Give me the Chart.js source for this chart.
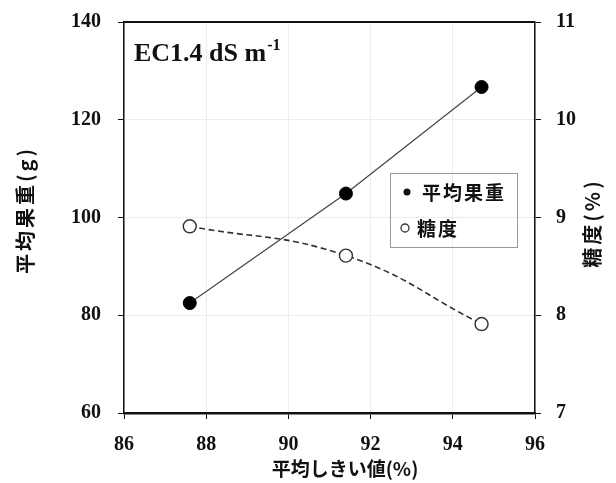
<!DOCTYPE html>
<html lang="ja">
<head>
<meta charset="UTF-8">
<title>平均しきい値と平均果重・糖度</title>
<script src="https://cdn.jsdelivr.net/npm/chart.js"></script>
<style>
    body { margin: 0; background: #fff; }
    #wrap { width: 616px; height: 483px; }
</style>
</head>
<body>
<div id="wrap"><canvas id="chart" width="616" height="483"></canvas></div>
<script>
    // データ
    const thresholds = [87.6, 91.4, 94.7];      // 平均しきい値(%)
    const fruitWeight = [82.5, 104.9, 126.7];   // 平均果重(g)
    const brix = [8.91, 8.61, 7.91];            // 糖度(%)
    const xTicks = [86, 88, 90, 92, 94, 96];
    const yTicks = [60, 80, 100, 120, 140];
    const y1Ticks = [7, 8, 9, 10, 11];
    const seriesNames = ['平均果重', '糖度'];

    const serif = "'Liberation Serif', 'DejaVu Serif', serif";
    const jp = "'Noto Sans CJK JP', sans-serif";

    function toPoints(xs, ys) {
        return xs.map((x, i) => ({ x: x, y: ys[i] }));
    }

    // 縦軸の幅を固定し、ラベルのはみ出し分の余白をなくす
    function fitVertical(width) {
        return s => {
            s.width = width;
            s.paddingTop = 0;
            s.paddingBottom = 0;
        };
    }

    // 枠・軸タイトル・凡例・注記
    const decorPlugin = {
        id: 'decor',
        beforeDatasetsDraw(chart) {
            const ctx = chart.ctx;
            const a = chart.chartArea;
            ctx.save();
            ctx.strokeStyle = '#111';
            ctx.lineWidth = 2;
            ctx.beginPath();
            ctx.moveTo(a.left, a.top);
            ctx.lineTo(a.right, a.top);
            ctx.stroke();
            ctx.restore();
        },
        afterDraw(chart) {
            const ctx = chart.ctx;
            ctx.save();
            ctx.fillStyle = '#111';
            ctx.textBaseline = 'middle';
            ctx.textAlign = 'center';

            // 軸タイトル
            ctx.font = "bold 20px " + jp;
            ctx.letterSpacing = '3px';
            ctx.save();
            ctx.translate(25, 210);
            ctx.rotate(-Math.PI / 2);
            ctx.fillText('平均果重(g)', 0, 0);
            ctx.restore();

            ctx.save();
            ctx.translate(592, 223);
            ctx.rotate(-Math.PI / 2);
            ctx.fillText('糖度(%)', 0, 0);
            ctx.restore();

            ctx.letterSpacing = '0px';
            ctx.font = "bold 19px " + jp;
            ctx.fillText('平均しきい値(%)', 345, 469);

            // 注記
            ctx.textAlign = 'left';
            ctx.textBaseline = 'alphabetic';
            ctx.font = "bold 26px " + serif;
            ctx.fillText('EC1.4 dS m', 134, 61);
            const w = ctx.measureText('EC1.4 dS m').width;
            ctx.font = "bold 16px " + serif;
            ctx.fillText('-1', 134 + w + 1, 50);

            // 凡例
            ctx.strokeStyle = '#999';
            ctx.lineWidth = 1;
            ctx.strokeRect(390.5, 173.5, 127, 74);
            ctx.fillStyle = '#111';
            ctx.beginPath();
            ctx.arc(407, 192, 3.5, 0, Math.PI * 2);
            ctx.fill();
            ctx.strokeStyle = '#333';
            ctx.lineWidth = 1.3;
            ctx.beginPath();
            ctx.arc(405, 228, 4, 0, Math.PI * 2);
            ctx.stroke();
            ctx.textBaseline = 'middle';
            ctx.font = "bold 19px " + jp;
            ctx.letterSpacing = '2px';
            ctx.fillText(seriesNames[0], 422, 193);
            ctx.fillText(seriesNames[1], 417, 229);
            ctx.restore();
        }
    };

    const tickFont = { family: serif, size: 20, weight: 'bold' };

    new Chart(document.getElementById('chart'), {
        type: 'scatter',
        data: {
            datasets: [
                {
                    label: seriesNames[0],
                    data: toPoints(thresholds, fruitWeight),
                    yAxisID: 'y',
                    showLine: true,
                    borderColor: '#444',
                    borderWidth: 1.2,
                    pointRadius: 6.5,
                    pointBackgroundColor: '#000',
                    pointBorderColor: '#000',
                    pointBorderWidth: 1
                },
                {
                    label: seriesNames[1],
                    data: toPoints(thresholds, brix),
                    yAxisID: 'y1',
                    showLine: true,
                    tension: 0.45,
                    borderColor: '#333',
                    borderWidth: 1.6,
                    borderDash: [6, 3.5],
                    pointRadius: 6.5,
                    pointBackgroundColor: '#fff',
                    pointBorderColor: '#333',
                    pointBorderWidth: 1.4
                }
            ]
        },
        options: {
            responsive: false,
            animation: false,
            layout: { autoPadding: false, padding: { top: 22, left: 0, right: 0, bottom: 0 } },
            plugins: {
                legend: { display: false },
                tooltip: { enabled: false }
            },
            scales: {
                x: {
                    type: 'linear',
                    min: 86,
                    max: 96,
                    afterBuildTicks: s => { s.ticks = xTicks.map(v => ({ value: v })); },
                    afterFit: s => { s.height = 70; s.paddingLeft = 0; s.paddingRight = 0; },
                    grid: { color: '#ececec', tickColor: '#111', tickLength: 6 },
                    border: { color: '#111', width: 2.5 },
                    ticks: { font: tickFont, color: '#111', padding: 14 }
                },
                y: {
                    position: 'left',
                    min: 60,
                    max: 140,
                    afterBuildTicks: s => { s.ticks = yTicks.map(v => ({ value: v })); },
                    afterFit: fitVertical(124),
                    grid: { color: '#ececec', tickColor: '#111', tickLength: 6 },
                    border: { color: '#111', width: 1.5 },
                    ticks: { font: tickFont, color: '#111', padding: 17 }
                },
                y1: {
                    position: 'right',
                    min: 7,
                    max: 11,
                    afterBuildTicks: s => { s.ticks = y1Ticks.map(v => ({ value: v })); },
                    afterFit: fitVertical(81),
                    grid: { drawOnChartArea: false, tickColor: '#111', tickLength: 6 },
                    border: { color: '#111', width: 1.5 },
                    ticks: { font: tickFont, color: '#111', padding: 15 }
                }
            }
        },
        plugins: [decorPlugin]
    });
</script>
</body>
</html>
